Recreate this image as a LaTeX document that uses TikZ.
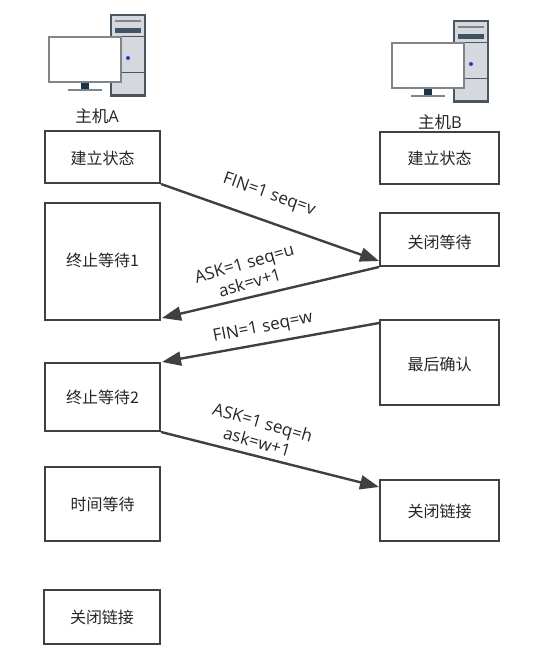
\documentclass[tikz,border=0pt]{standalone}
\usepackage{fontspec}
\setmainfont{Open Sans}
\newfontfamily\cjkf{Noto Sans CJK SC}
\usetikzlibrary{arrows.meta,positioning,calc}
\definecolor{linec}{HTML}{404040}
\definecolor{txtc}{HTML}{262626}
\definecolor{towerf}{HTML}{D5D9DE}
\definecolor{towere}{HTML}{4A5560}
\definecolor{darkb}{HTML}{1F3347}
\definecolor{monit}{HTML}{7F858B}
\tikzset{
  statebox/.style={draw=linec,line width=2pt,fill=white,inner sep=0pt,text=txtc,text depth=1pt,text height=13pt,font=\cjkf\fontsize{16}{19}\selectfont},
  msg/.style={-{Triangle[length=19pt,width=14pt,fill=linec]},draw=linec,line width=2.4pt},
  msglabel/.style={text=txtc,font=\fontsize{17}{20}\selectfont,align=center,inner sep=0pt},
  hostlabel/.style={text=txtc,font=\fontsize{16.5}{19}\selectfont,inner sep=0pt},
  pics/computer/.style={code={
    % tower
    \draw[towere,line width=1.3pt,fill=towerf] (111,15) rectangle (145,96);
    \fill[towere] (111,94) rectangle (145,96);
    \draw[monit,line width=2pt] (115,21) -- (141,21);
    \fill[darkb!85!white] (115,28) rectangle (141,33);
    \draw[towere,line width=.8pt] (111,36) -- (145,36);
    \draw[towere,line width=.8pt] (111,72) -- (145,72);
    \fill[blue!60!gray] (128,58) circle (2);
    % stand
    \fill[darkb] (81,82) rectangle (89,90);
    \fill[monit] (68,88.5) rectangle (102,91);
    % monitor
    \draw[monit,line width=1.6pt,fill=white] (49,37) rectangle (121,82);
  }}
}
\newcommand{\zh}[1]{{\cjkf #1}}
\begin{document}
\begin{tikzpicture}[x=1pt,y=-1pt]
\useasboundingbox (0,0) rectangle (541,670);
\pic (pca) at (0,0) {computer};
\pic (pcb) at (343,6) {computer};
\node[hostlabel] (hosta) at (97,116) {\zh{主机}A};
\node[hostlabel] (hostb) at (440,122) {\zh{主机}B};
\node[statebox,text height=15pt,minimum width=115pt,minimum height=52pt] (a1) at (102.5,157) {建立状态};
\node[statebox,text height=10pt,minimum width=115pt,minimum height=117pt] (a2) at (102.5,261.5) {终止等待1};
\node[statebox,minimum width=115pt,minimum height=68pt] (a3) at (102.5,397) {终止等待2};
\node[statebox,minimum width=115pt,minimum height=74pt] (a4) at (102.5,504) {时间等待};
\node[statebox,minimum width=116pt,minimum height=54pt] (a5) at (102,617) {关闭链接};
\node[statebox,minimum width=119pt,minimum height=52pt] (b1) at (439.5,158) {建立状态};
\node[statebox,text height=18pt,minimum width=119pt,minimum height=53pt] (b2) at (439.5,239.5) {关闭等待};
\node[statebox,text height=16pt,minimum width=119pt,minimum height=85pt] (b3) at (439.5,362.5) {最后确认};
\node[statebox,text height=14pt,minimum width=119pt,minimum height=61pt] (b4) at (439.5,510.5) {关闭链接};
\draw[msg] (a1.south east) -- ([yshift=6pt]b2.south west);
\draw[msg] (b2.south west) -- ([xshift=1pt,yshift=3pt]a2.south east);
\draw[msg] ([yshift=-4pt]b3.north west) -- ([xshift=1pt]a3.north east);
\draw[msg] (a3.south east) -- ([yshift=-8pt]b4.north west);
\node[msglabel,rotate=-19.5] (l1) at (269,195) {FIN=1 seq=v};
\node[msglabel,rotate=16] (l2) at (247,273) {ASK=1 seq=u\\ask=v+1};
\node[msglabel,rotate=11] (l3) at (263,328) {FIN=1 seq=w};
\node[msglabel,rotate=-16] (l4) at (260,432) {ASK=1 seq=h\\ask=w+1};
\end{tikzpicture}
\end{document}
